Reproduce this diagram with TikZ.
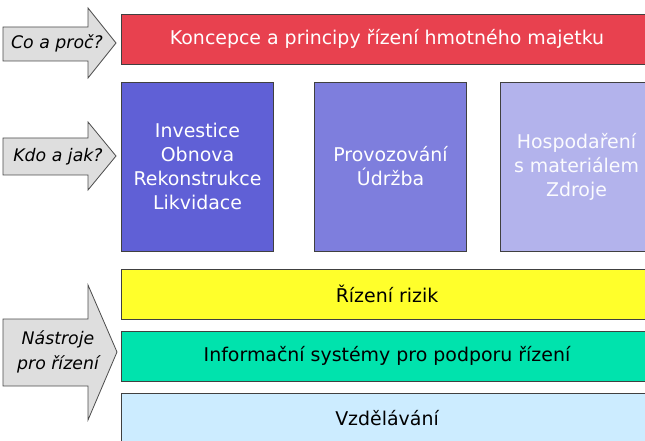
\documentclass[tikz,border=0pt]{standalone}
\usepackage{fontspec}
\setmainfont{DejaVu Sans}
\begin{document}
\begin{tikzpicture}[x=0.75pt,y=-0.75pt,
  bar/.style={draw=black!75, line width=0.6pt, minimum width=399pt, minimum height=37.5pt, inner sep=0pt, font=\fontsize{14.2}{17}\selectfont},
  col/.style={draw=black!75, line width=0.6pt, minimum width=114pt, minimum height=126.75pt, inner sep=0pt, align=center, font=\fontsize{14.2}{18}\selectfont},
  arr/.style={draw=black!70, fill=black!13, line width=0.6pt, line join=miter},
  arrtext/.style={font=\itshape\fontsize{13}{18.5}\selectfont, align=center, inner sep=0pt}]
\useasboundingbox (0,0) rectangle (645,441);
\clip (0,0) rectangle (645,441);
\definecolor{cred}{HTML}{E8414F}
\definecolor{cb1}{HTML}{6060D6}
\definecolor{cb2}{HTML}{7E7EDD}
\definecolor{cb3}{HTML}{B3B3EC}
\definecolor{cyel}{HTML}{FFFF2B}
\definecolor{cgrn}{HTML}{00E3AD}
\definecolor{cblu}{HTML}{CCECFF}
% arrows
\draw[arr] (3,27) -- (88,27) -- (88,8) -- (116,43) -- (88,78) -- (88,61) -- (3,61) -- cycle;
\draw[arr] (3,138) -- (88,138) -- (88,122) -- (116,156) -- (88,190) -- (88,175) -- (3,175) -- cycle;
\draw[arr] (3,319) -- (88,319) -- (88,285) -- (117,352) -- (88,420) -- (88,386) -- (3,386) -- cycle;
\node[arrtext] (q1) at (57,43) {Co a proč?};
\node[arrtext] (q2) at (58,157) {Kdo a jak?};
\node[arrtext] (q3) at (58,352) {Nástroje\\pro řízení};
% bars
\node[bar, fill=cred, text=white] (koncepce) at (387,39) {Koncepce a principy řízení hmotného majetku};
\node[col, fill=cb1, text=white] (b1) at (197.5,166.5) {Investice\\Obnova\\Rekonstrukce\\Likvidace};
\node[col, fill=cb2, text=white] (b2) at (390.5,166.5) {Provozování\\Údržba};
\node[col, fill=cb3, text=white!95!cb3] (b3) at (576.5,166.5) {Hospodaření\\s materiálem\\Zdroje};
\node[bar, fill=cyel] (rizika) at (387,294) {Řízení rizik};
\node[bar, fill=cgrn] (is) at (387,356) {Informační systémy pro podporu řízení};
\node[bar, fill=cblu] (vzd) at (387,418) {Vzdělávání};
\end{tikzpicture}
\end{document}
